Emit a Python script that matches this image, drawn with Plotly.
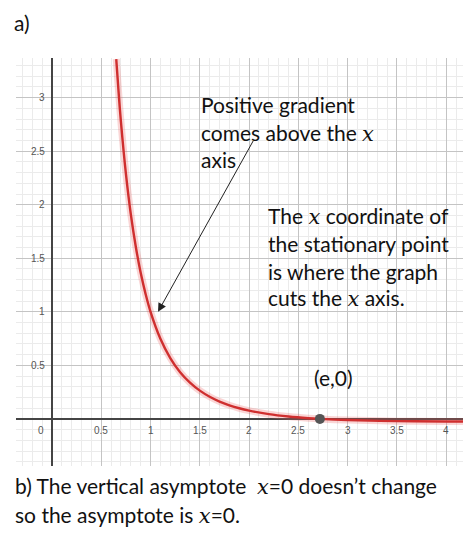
import plotly.graph_objects as go

# Curve values
curve_x = [0.652, 0.68, 0.70, 0.75, 0.80, 0.85, 0.90, 0.95, 1.0, 1.1, 1.2, 1.3, 1.4,
           1.5, 1.6, 1.7, 1.8, 1.9, 2.0, 2.2, 2.4, 2.6, 2.718, 3.0, 3.5, 4.0, 4.17]
curve_y = [3.36, 3.00, 2.77, 2.29, 1.91, 1.61, 1.364, 1.165, 1.0, 0.748, 0.568, 0.436, 0.339,
           0.264, 0.207, 0.162, 0.127, 0.099, 0.077, 0.044, 0.022, 0.0066, 0.0, -0.011, -0.021, -0.024, -0.025]

point_x = [2.718]
point_y = [0.0]

x_tick_vals = [0.5, 1, 1.5, 2, 2.5, 3, 3.5, 4]
x_tick_text = ["0.5", "1", "1.5", "2", "2.5", "3", "3.5", "4"]
y_tick_vals = [0.5, 1, 1.5, 2, 2.5, 3]
y_tick_text = ["0.5", "1", "1.5", "2", "2.5", "3"]

X_RANGE = [-0.365, 4.17]
Y_RANGE = [-0.44, 3.37]

FONT = "Lato"
XI = "<span style=\"font-family:'DejaVu Serif'\"><i>x</i></span>"

fig = go.Figure()

# halo
fig.add_trace(go.Scatter(x=curve_x, y=curve_y, mode="lines", line=dict(color="rgba(235,90,90,0.25)", width=7, shape="spline"),
                         hoverinfo="skip", showlegend=False))
fig.add_trace(go.Scatter(x=curve_x, y=curve_y, mode="lines", line=dict(color="#cf2f2f", width=2.4, shape="spline"),
                         showlegend=False))
fig.add_trace(go.Scatter(x=point_x, y=point_y, mode="markers", marker=dict(color="#555555", size=10),
                         showlegend=False))

annotations = []
tick_font = dict(family="Liberation Sans", size=10, color="#555555")
for v, t in zip(x_tick_vals, x_tick_text):
    annotations.append(dict(x=v, y=0, xref="x", yref="y", text=t, showarrow=False, yshift=-12, font=tick_font))
for v, t in zip(y_tick_vals, y_tick_text):
    annotations.append(dict(x=0, y=v, xref="x", yref="y", text=t, showarrow=False, xanchor="right", xshift=-5,
                            font=tick_font))
annotations.append(dict(x=0, y=0, xref="x", yref="y", text="0", showarrow=False, xanchor="right", xshift=-6, yshift=-12,
                        font=tick_font))

# arrow
annotations.append(dict(x=1.076, y=1.0, ax=2.05, ay=2.61, xref="x", yref="y", axref="x", ayref="y",
                        text="", showarrow=True, arrowhead=2, arrowsize=1.7, arrowwidth=1, arrowcolor="#222222"))

text_font = dict(family=FONT, size=21, color="#111111")
for txt, yy in [("Positive gradient", 2.94), ("comes above the " + XI, 2.67), ("axis", 2.42)]:
    annotations.append(dict(x=1.49, y=yy, xref="x", yref="y", text=txt, showarrow=False, xanchor="left",
                            yanchor="middle", font=text_font))
for txt, yy in [("The " + XI + " coordinate of", 1.89), ("the stationary point", 1.635),
                ("is where the graph", 1.374), ("cuts the " + XI + " axis.", 1.13)]:
    annotations.append(dict(x=2.17, y=yy, xref="x", yref="y", text=txt, showarrow=False, xanchor="left",
                            yanchor="middle", font=text_font))
annotations.append(dict(x=2.64, y=0.383, xref="x", yref="y", text="(e,0)", showarrow=False, xanchor="left",
                        yanchor="middle", font=text_font))

annotations.append(dict(x=-0.009, y=1.088, xref="paper", yref="paper", text="a)", showarrow=False, xanchor="left",
                        yanchor="middle", font=text_font))
annotations.append(dict(x=-0.0067, y=-0.049, xref="paper", yref="paper",
                        text="b) The vertical asymptote  " + XI + "=0 doesn’t change", showarrow=False,
                        xanchor="left", yanchor="middle", font=text_font))
annotations.append(dict(x=-0.0067, y=-0.12, xref="paper", yref="paper",
                        text="so the asymptote is " + XI + "=0.", showarrow=False,
                        xanchor="left", yanchor="middle", font=text_font))

axis_common = dict(showticklabels=False, ticks="", showline=False, zeroline=True, zerolinecolor="#444444",
                   zerolinewidth=1.6, showgrid=True, gridcolor="#c4c4c4", gridwidth=1, tick0=0, dtick=0.5,
                   minor=dict(dtick=0.1, tick0=0, showgrid=True, gridcolor="#ebebeb", gridwidth=1), fixedrange=True)

# page body has an 8px margin, so the figure is sized and placed to compensate
fig.update_layout(
    width=466, height=532,
    margin=dict(l=8, r=11, t=50, b=74),
    paper_bgcolor="white", plot_bgcolor="white",
    xaxis=dict(range=X_RANGE, **axis_common),
    yaxis=dict(range=Y_RANGE, **axis_common),
    annotations=annotations,
    showlegend=False,
)

fig.write_html("out.html")
